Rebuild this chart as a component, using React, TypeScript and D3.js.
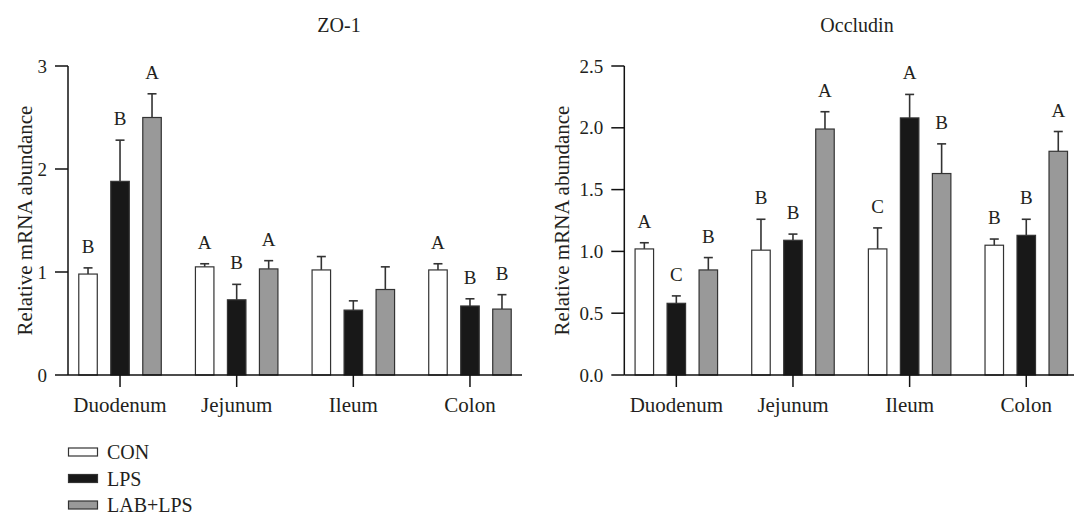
import React from 'react';
import * as d3 from 'd3';

const groups = ['Duodenum', 'Jejunum', 'Ileum', 'Colon'];
const seriesNames = ['CON', 'LPS', 'LAB+LPS'];
const seriesFill = ['#ffffff', '#181818', '#999999'];

// ZO-1
const zo1CON = [0.98, 1.05, 1.02, 1.02];
const zo1LPS = [1.88, 0.73, 0.63, 0.67];
const zo1LAB = [2.5, 1.03, 0.83, 0.64];
const zo1ErrCON = [0.06, 0.03, 0.13, 0.06];
const zo1ErrLPS = [0.4, 0.15, 0.09, 0.07];
const zo1ErrLAB = [0.23, 0.08, 0.22, 0.14];
const zo1LetCON = ['B', 'A', '', 'A'];
const zo1LetLPS = ['B', 'B', '', 'B'];
const zo1LetLAB = ['A', 'A', '', 'B'];
const zo1Ticks = [0, 1, 2, 3];

// Occludin
const occCON = [1.02, 1.01, 1.02, 1.05];
const occLPS = [0.58, 1.09, 2.08, 1.13];
const occLAB = [0.85, 1.99, 1.63, 1.81];
const occErrCON = [0.05, 0.25, 0.17, 0.05];
const occErrLPS = [0.06, 0.05, 0.19, 0.13];
const occErrLAB = [0.1, 0.14, 0.24, 0.16];
const occLetCON = ['A', 'B', 'C', 'B'];
const occLetLPS = ['C', 'B', 'A', 'B'];
const occLetLAB = ['B', 'A', 'B', 'A'];
const occTicks = [0, 0.5, 1.0, 1.5, 2.0, 2.5];

const FONT = '"Liberation Serif", "Times New Roman", serif';
const TXT = '#231f20';

type PanelProps = {
  title: string;
  titleX: number;
  x0: number;
  yMax: number;
  ticks: number[];
  fmt: (v: number) => string;
  means: number[][];
  errs: number[][];
  letters: string[][];
  ylabelX: number;
};

function Panel(p: PanelProps) {
  const yTop = 66;
  const yBot = 375;
  const width = 454;
  const y = d3.scaleLinear().domain([0, p.yMax]).range([yBot, yTop]);
  const x = d3.scalePoint<string>().domain(groups).range([p.x0, p.x0 + width]).padding(0.446);
  const barW = 18.5;
  const off = 32;
  return (
    <g>
      <text x={p.titleX} y={32} textAnchor="middle" fontSize={20} fill={TXT} fontFamily={FONT}>{p.title}</text>
      {/* bars */}
      {p.means.map((arr, si) =>
        arr.map((v, gi) => {
          const cx = (x(groups[gi]) as number) + (si - 1) * off;
          const top = y(v);
          const cap = y(v + p.errs[si][gi]);
          const let_ = p.letters[si][gi];
          return (
            <g key={si + '-' + gi}>
              <line x1={cx} x2={cx} y1={top} y2={cap} stroke="#333" strokeWidth={1.6} />
              <line x1={cx - 4.5} x2={cx + 4.5} y1={cap} y2={cap} stroke="#333" strokeWidth={1.6} />
              <rect x={cx - barW / 2} y={top} width={barW} height={yBot - top} fill={seriesFill[si]} stroke="#333" strokeWidth={1.2} />
              {let_ && (
                <text x={cx} y={cap - 15} textAnchor="middle" fontSize={19} fill={TXT} fontFamily={FONT}>{let_}</text>
              )}
            </g>
          );
        })
      )}
      {/* y axis */}
      <line x1={p.x0} x2={p.x0} y1={yTop} y2={yBot} stroke="#111" strokeWidth={1.5} />
      {p.ticks.map((t) => (
        <g key={t}>
          <line x1={p.x0 - 13} x2={p.x0} y1={y(t)} y2={y(t)} stroke="#111" strokeWidth={1.5} />
          <text x={p.x0 - 21} y={y(t)} dy="0.35em" textAnchor="end" fontSize={19} fill={TXT} fontFamily={FONT}>{p.fmt(t)}</text>
        </g>
      ))}
      {/* x axis */}
      <line x1={p.x0} x2={p.x0 + width} y1={yBot} y2={yBot} stroke="#111" strokeWidth={1.5} />
      {groups.map((g) => (
        <g key={g}>
          <line x1={x(g)} x2={x(g)} y1={yBot} y2={yBot + 12} stroke="#111" strokeWidth={1.5} />
          <text x={x(g)} y={412} textAnchor="middle" fontSize={21} fill={TXT} fontFamily={FONT}>{g}</text>
        </g>
      ))}
      <text transform={`translate(${p.ylabelX},${(yTop + yBot) / 2}) rotate(-90)`} textAnchor="middle" dy="0.35em" fontSize={21} fill={TXT} fontFamily={FONT}>
        Relative mRNA abundance
      </text>
    </g>
  );
}

export default function App() {
  const legendY = [452, 478.5, 505];
  return (
    <svg width={1074} height={514} style={{ position: 'absolute', left: 0, top: 0, background: '#fff' }}>
      <rect x={0} y={0} width={1074} height={514} fill="#fff" />
      <Panel
        title="ZO-1"
        titleX={339}
        x0={68}
        yMax={3}
        ticks={zo1Ticks}
        fmt={d3.format('d')}
        means={[zo1CON, zo1LPS, zo1LAB]}
        errs={[zo1ErrCON, zo1ErrLPS, zo1ErrLAB]}
        letters={[zo1LetCON, zo1LetLPS, zo1LetLAB]}
        ylabelX={25}
      />
      <Panel
        title="Occludin"
        titleX={857}
        x0={624.3}
        yMax={2.5}
        ticks={occTicks}
        fmt={d3.format('.1f')}
        means={[occCON, occLPS, occLAB]}
        errs={[occErrCON, occErrLPS, occErrLAB]}
        letters={[occLetCON, occLetLPS, occLetLAB]}
        ylabelX={562}
      />
      {seriesNames.map((s, i) => (
        <g key={s}>
          <rect x={68.5} y={legendY[i] - 4} width={29} height={8} fill={seriesFill[i]} stroke="#333" strokeWidth={1.2} />
          <text x={107} y={legendY[i]} dy="0.35em" fontSize={20} fill={TXT} fontFamily={FONT}>{s}</text>
        </g>
      ))}
    </svg>
  );
}
